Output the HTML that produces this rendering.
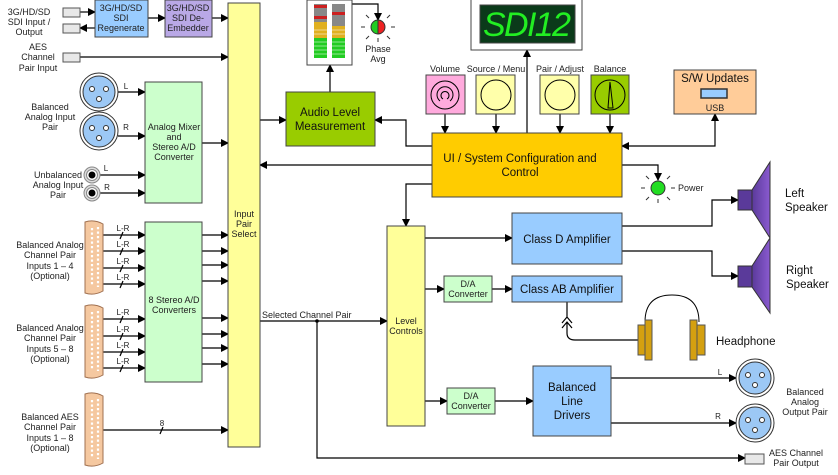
<!DOCTYPE html>
<html><head><meta charset="utf-8"><style>body{margin:0;background:#fff}svg{display:block}text{font-family:"Liberation Sans",sans-serif}</style></head><body>
<svg width="838" height="475" viewBox="0 0 838 475" xmlns="http://www.w3.org/2000/svg">
<defs>
<marker id="a" markerWidth="8" markerHeight="8" refX="7" refY="4" orient="auto" markerUnits="userSpaceOnUse"><path d="M0,0 L8,4 L0,8 z" fill="#000"/></marker>
<marker id="s" markerWidth="8" markerHeight="8" refX="1" refY="4" orient="auto" markerUnits="userSpaceOnUse"><path d="M8,0 L0,4 L8,8 z" fill="#000"/></marker>
<linearGradient id="sp" x1="0" x2="1"><stop offset="0" stop-color="#5a3a9a"/><stop offset="1" stop-color="#8a5ad0"/></linearGradient>
<g id="xlr"><circle r="19" fill="#fff" stroke="#333"/><circle r="16" fill="#9cc8f5" stroke="#333"/><circle cx="-7" cy="-3" r="2.5" fill="#fff" stroke="#333"/><circle cx="7" cy="-3" r="2.5" fill="#fff" stroke="#333"/><circle cx="0" cy="7" r="2.5" fill="#fff" stroke="#333"/></g>
<g id="jack"><circle r="8" fill="#ddd" stroke="#888"/><circle r="5.5" fill="#fff" stroke="#888"/><circle r="3.5" fill="#000"/></g>
<g id="db"><path d="M0,0 Q9,-3 18,2 L18,69 Q9,74 0,71 Z" fill="#f5c8a0" stroke="#a07050"/>
<path d="M7,6v58M13,5v60" stroke="#fff" stroke-width="2.2" stroke-dasharray="2.2 2.3" fill="none"/></g>
</defs>
<g stroke="#000" stroke-width="1.2" fill="none">
<line x1="80" y1="12" x2="95" y2="12" marker-end="url(#a)"/>
<line x1="95" y1="28" x2="80" y2="28" marker-end="url(#a)"/>
<line x1="148" y1="18" x2="165" y2="18" marker-end="url(#a)"/>
<line x1="212" y1="18" x2="228" y2="18" marker-end="url(#a)"/>
<line x1="80" y1="57" x2="228" y2="57" marker-end="url(#a)"/>
<line x1="118" y1="92" x2="145" y2="92" marker-end="url(#a)"/>
<line x1="118" y1="136" x2="145" y2="136" marker-end="url(#a)"/>
<line x1="100" y1="175" x2="145" y2="175" marker-end="url(#a)"/>
<line x1="100" y1="193" x2="145" y2="193" marker-end="url(#a)"/>
<line x1="202" y1="143" x2="228" y2="143" marker-end="url(#a)"/>
<line x1="103" y1="235" x2="145" y2="235" marker-end="url(#a)"/><line x1="103" y1="251" x2="145" y2="251" marker-end="url(#a)"/><line x1="103" y1="268" x2="145" y2="268" marker-end="url(#a)"/><line x1="103" y1="284" x2="145" y2="284" marker-end="url(#a)"/>
<line x1="103" y1="319" x2="145" y2="319" marker-end="url(#a)"/><line x1="103" y1="336" x2="145" y2="336" marker-end="url(#a)"/><line x1="103" y1="352" x2="145" y2="352" marker-end="url(#a)"/><line x1="103" y1="368" x2="145" y2="368" marker-end="url(#a)"/>
<path d="M120,239l3,-7M120,255l3,-7M120,272l3,-7M120,288l3,-7M120,323l3,-7M120,340l3,-7M120,356l3,-7M120,372l3,-7M160,434l3,-7"/>
<line x1="202" y1="235" x2="228" y2="235" marker-end="url(#a)"/><line x1="202" y1="251" x2="228" y2="251" marker-end="url(#a)"/><line x1="202" y1="265" x2="228" y2="265" marker-end="url(#a)"/><line x1="202" y1="281" x2="228" y2="281" marker-end="url(#a)"/>
<line x1="202" y1="318" x2="228" y2="318" marker-end="url(#a)"/><line x1="202" y1="334" x2="228" y2="334" marker-end="url(#a)"/><line x1="202" y1="348" x2="228" y2="348" marker-end="url(#a)"/><line x1="202" y1="364" x2="228" y2="364" marker-end="url(#a)"/>
<line x1="103" y1="430" x2="228" y2="430" marker-end="url(#a)"/>
<line x1="260" y1="120" x2="286" y2="120" marker-end="url(#a)"/>
<line x1="432" y1="165" x2="260" y2="165" marker-end="url(#a)"/>
<path d="M432,146H406V120H375" marker-end="url(#a)"/>
<line x1="330" y1="92" x2="330" y2="65" marker-end="url(#a)"/>
<path d="M352,4H378V20" marker-end="url(#a)"/>
<line x1="527" y1="133" x2="527" y2="50" marker-end="url(#a)"/>
<line x1="445" y1="114" x2="445" y2="133" marker-end="url(#a)"/>
<line x1="496" y1="114" x2="496" y2="133" marker-end="url(#a)"/>
<line x1="560" y1="114" x2="560" y2="133" marker-end="url(#a)"/>
<line x1="610" y1="114" x2="610" y2="133" marker-end="url(#a)"/>
<path d="M622,146H715V114" marker-start="url(#s)" marker-end="url(#a)"/>
<path d="M622,165H658V180" marker-end="url(#a)"/>
<path d="M432,184H406V226" marker-end="url(#a)"/>
<line x1="260" y1="321" x2="387" y2="321" marker-end="url(#a)"/>
<path d="M317,321V458H745" marker-end="url(#a)"/>
<line x1="425" y1="238" x2="512" y2="238" marker-end="url(#a)"/>
<line x1="425" y1="289" x2="444" y2="289" marker-end="url(#a)"/>
<line x1="492" y1="289" x2="512" y2="289" marker-end="url(#a)"/>
<line x1="425" y1="401" x2="447" y2="401" marker-end="url(#a)"/>
<line x1="495" y1="401" x2="533" y2="401" marker-end="url(#a)"/>
<path d="M622,226H712V200H738" marker-end="url(#a)"/>
<path d="M622,251H712V276H738" marker-end="url(#a)"/>
<line x1="611" y1="378" x2="736" y2="378" marker-end="url(#a)"/>
<line x1="611" y1="423" x2="736" y2="423" marker-end="url(#a)"/>
<path d="M567,302V318M562,323l5,-6l5,6M562,328l5,-6l5,6M567,322V333Q567,340 575,340H640"/>
</g>
<g fill="#e8e8e8" stroke="#555"><rect x="63" y="8" width="17" height="9"/><rect x="63" y="24" width="17" height="9"/><rect x="63" y="53" width="17" height="9"/><rect x="745" y="454" width="19" height="10"/></g>
<use href="#xlr" x="99" y="92"/><use href="#xlr" x="99" y="131"/>
<use href="#xlr" x="755" y="378"/><use href="#xlr" x="755" y="423"/>
<use href="#jack" x="92" y="175"/><use href="#jack" x="92" y="193"/>
<use href="#db" x="85" y="222"/><use href="#db" x="85" y="306"/><use href="#db" x="85" y="394"/>
<g stroke="#444" stroke-width="1">
<rect x="95" y="0" width="53" height="37" fill="#99ccff"/>
<rect x="165" y="0" width="47" height="37" fill="#b9a8e6"/>
<rect x="228" y="3" width="32" height="444" fill="#ffff99"/>
<rect x="145" y="82" width="57" height="121" fill="#ccffcc"/>
<rect x="145" y="222" width="57" height="160" fill="#ccffcc"/>
<rect x="286" y="92" width="89" height="54" fill="#99cc00"/>
<rect x="307" y="0" width="45" height="65" fill="#fff"/>
<rect x="471" y="-1" width="111" height="51" fill="#fff"/>
<rect x="480" y="5" width="95" height="38" fill="#0b3a1a"/>
<rect x="426" y="75" width="39" height="39" fill="#ffaadd"/>
<rect x="476" y="75" width="39" height="39" fill="#ffffaa"/>
<rect x="540" y="75" width="39" height="39" fill="#ffffaa"/>
<rect x="591" y="75" width="38" height="39" fill="#99cc00"/>
<rect x="432" y="133" width="190" height="64" fill="#ffcc00"/>
<rect x="674" y="70" width="82" height="44" fill="#ffcc99"/>
<rect x="387" y="226" width="38" height="200" fill="#ffff99"/>
<rect x="512" y="213" width="110" height="51" fill="#99ccff"/>
<rect x="444" y="276" width="48" height="26" fill="#ccffcc"/>
<rect x="512" y="276" width="110" height="26" fill="#99ccff"/>
<rect x="447" y="388" width="48" height="26" fill="#ccffcc"/>
<rect x="533" y="366" width="78" height="70" fill="#99ccff"/>
</g>
<g><rect x="314" y="4" width="13" height="54" fill="#22cc22"/><rect x="332" y="4" width="13" height="54" fill="#22cc22"/>
<rect x="314" y="4" width="13" height="18" fill="#888"/><rect x="332" y="4" width="13" height="22" fill="#888"/>
<rect x="314" y="22" width="13" height="16" fill="#e0b020"/><rect x="332" y="26" width="13" height="12" fill="#e0b020"/>
<rect x="314" y="5" width="13" height="3" fill="#cc2020"/><rect x="314" y="16" width="13" height="3" fill="#cc2020"/><rect x="332" y="12" width="13" height="3" fill="#cc2020"/>
<path d="M314,42h31M314,46h31M314,50h31M314,54h31M314,30h31M314,34h31" stroke="#fff" stroke-width="0.5"/></g>
<path d="M378,27m-7,0a7,7 0 0,1 7,-7v14a7,7 0 0,1 -7,-7z" fill="#22cc22" stroke="#333"/>
<path d="M378,20a7,7 0 0,1 0,14z" fill="#ee2222" stroke="#333"/>
<path d="M365,27h-4M391,27h4M378,38v4M369,18l-3,-3M387,18l3,-3M369,36l-3,3M387,36l3,3" stroke="#333"/>
<circle cx="658" cy="188" r="7" fill="#22dd22" stroke="#333"/>
<path d="M645,188h-4M671,188h4M658,199v4M649,179l-3,-3M667,179l3,-3M649,197l-3,3M667,197l3,3" stroke="#333"/>
<g fill="none" stroke="#000"><circle cx="445" cy="95" r="14"/><path d="M440,101a8,8 0 1,1 10,0" /><path d="M443,99a4,4 0 1,1 4,0"/>
<circle cx="496" cy="95" r="15"/><circle cx="560" cy="95" r="15"/><circle cx="610" cy="95" r="15"/><path d="M608,108L610,82L613,108Z"/></g>
<rect x="701" y="89" width="26" height="9" fill="#99ccff" stroke="#333" stroke-width="1.5"/>
<rect x="738" y="190" width="14" height="20" fill="#5a3a9a" stroke="#333"/>
<path d="M752,190L770,162V238L752,210Z" fill="url(#sp)" stroke="#333"/>
<rect x="738" y="266" width="14" height="21" fill="#5a3a9a" stroke="#333"/>
<path d="M752,266L770,238V313L752,287Z" fill="url(#sp)" stroke="#333"/>
<path d="M645,322Q645,295 672,295Q699,295 699,322" fill="none" stroke="#000"/>
<rect x="638" y="325" width="8" height="30" fill="#d4a010" stroke="#555"/><rect x="645" y="320" width="7" height="40" fill="#d4a010" stroke="#555"/>
<rect x="690" y="320" width="7" height="40" fill="#d4a010" stroke="#555"/><rect x="697" y="325" width="8" height="30" fill="#d4a010" stroke="#555"/>
<circle cx="317" cy="321" r="1.8"/>
<g font-size="9" text-anchor="middle" fill="#222">
<text x="29" y="15">3G/HD/SD</text><text x="29" y="25">SDI Input /</text><text x="29" y="35">Output</text>
<text x="121" y="11">3G/HD/SD</text><text x="121" y="21">SDI</text><text x="121" y="31">Regenerate</text>
<text x="188" y="11">3G/HD/SD</text><text x="188" y="21">SDI De-</text><text x="188" y="31">Embedder</text>
<text x="38" y="50">AES</text><text x="38" y="60">Channel</text><text x="38" y="71">Pair Input</text>
<text x="50" y="110">Balanced</text><text x="50" y="120">Analog Input</text><text x="50" y="130">Pair</text>
<text x="58" y="178">Unbalanced</text><text x="58" y="188">Analog Input</text><text x="58" y="198">Pair</text>
<text x="174" y="130">Analog Mixer</text><text x="174" y="140">and</text><text x="174" y="150">Stereo A/D</text><text x="174" y="160">Converter</text>
<text x="174" y="303">8 Stereo A/D</text><text x="174" y="313">Converters</text>
<text x="50" y="248">Balanced Analog</text><text x="50" y="258">Channel Pair</text><text x="50" y="269">Inputs 1 – 4</text><text x="50" y="279">(Optional)</text>
<text x="50" y="331">Balanced Analog</text><text x="50" y="341">Channel Pair</text><text x="50" y="352">Inputs 5 – 8</text><text x="50" y="362">(Optional)</text>
<text x="50" y="420">Balanced AES</text><text x="50" y="430">Channel Pair</text><text x="50" y="441">Inputs 1 – 8</text><text x="50" y="451">(Optional)</text>
<text x="244" y="217">Input</text><text x="244" y="227">Pair</text><text x="244" y="237">Select</text>
<text x="378" y="52">Phase</text><text x="378" y="62">Avg</text>
<text x="406" y="324">Level</text><text x="406" y="334">Controls</text>
<text x="468" y="287">D/A</text><text x="468" y="297">Converter</text>
<text x="471" y="399">D/A</text><text x="471" y="409">Converter</text>
<text x="445" y="72">Volume</text><text x="496" y="72">Source / Menu</text><text x="560" y="72">Pair / Adjust</text><text x="610" y="72">Balance</text>
<text x="715" y="111">USB</text>
<text x="805" y="395">Balanced</text><text x="805" y="405">Analog</text><text x="805" y="415">Output Pair</text>
<text x="796" y="456">AES Channel</text><text x="796" y="466">Pair Output</text>
</g>
<g font-size="8" fill="#222" text-anchor="middle">
<text x="126" y="89">L</text><text x="126" y="130">R</text><text x="106" y="171">L</text><text x="107" y="190">R</text>
<text x="123" y="231">L-R</text><text x="123" y="247">L-R</text><text x="123" y="264">L-R</text><text x="123" y="280">L-R</text>
<text x="123" y="315">L-R</text><text x="123" y="332">L-R</text><text x="123" y="348">L-R</text><text x="123" y="364">L-R</text>
<text x="162" y="426">8</text><text x="720" y="375">L</text><text x="718" y="419">R</text>
</g>
<g font-size="9" fill="#222"><text x="262" y="318">Selected Channel Pair</text><text x="678" y="191">Power</text></g>
<g font-size="11.5" fill="#111" text-anchor="middle">
<text x="330" y="116">Audio Level</text><text x="330" y="130">Measurement</text>
<text x="520" y="162">UI / System Configuration and</text><text x="520" y="176">Control</text>
<text x="715" y="82">S/W Updates</text>
<text x="567" y="243">Class D Amplifier</text><text x="567" y="293">Class AB Amplifier</text>
<text x="572" y="391">Balanced</text><text x="572" y="405">Line</text><text x="572" y="419">Drivers</text>
</g>
<g font-size="11.5" fill="#111"><text x="785" y="197">Left</text><text x="785" y="211">Speaker</text><text x="786" y="274">Right</text><text x="786" y="288">Speaker</text><text x="716" y="345">Headphone</text></g>
<text x="527" y="36" font-family="Liberation Mono,monospace" font-size="34" font-style="italic" fill="#22ee22" text-anchor="middle" textLength="88">SDI12</text>
</svg>
</body></html>
